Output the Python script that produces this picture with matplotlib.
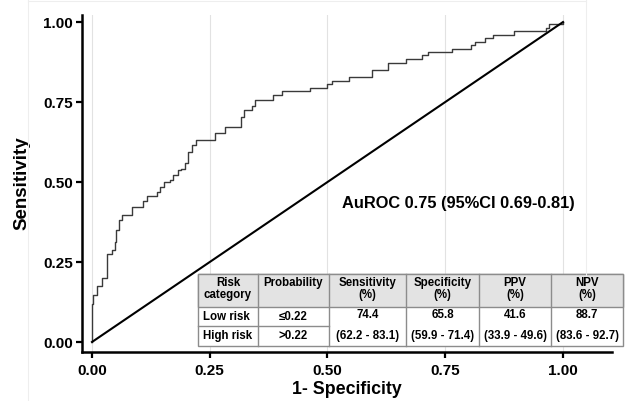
import matplotlib
matplotlib.use("Agg")
import matplotlib.pyplot as plt
from matplotlib.patches import Rectangle
from matplotlib.lines import Line2D

plt.rcParams['font.family'] = ['Liberation Sans', 'DejaVu Sans']
plt.rcParams['font.weight'] = 'bold'

# puntos de la curva ROC (1-especificidad, sensibilidad)
fpr = [0.0, 0.0, 0.003, 0.010, 0.021, 0.031, 0.042, 0.049, 0.052, 0.058,
       0.063, 0.084, 0.109, 0.116, 0.137, 0.144, 0.153, 0.166, 0.173, 0.183,
       0.190, 0.197, 0.204, 0.212, 0.221, 0.262, 0.283, 0.316, 0.323, 0.339,
       0.347, 0.384, 0.404, 0.463, 0.500, 0.509, 0.546, 0.595, 0.629, 0.666,
       0.700, 0.713, 0.764, 0.804, 0.813, 0.834, 0.852, 0.896, 0.964, 0.971,
       1.0]
tpr = [0.0, 0.12, 0.147, 0.175, 0.200, 0.275, 0.287, 0.313, 0.350, 0.380,
       0.397, 0.423, 0.440, 0.456, 0.470, 0.485, 0.500, 0.506, 0.522, 0.538,
       0.542, 0.558, 0.595, 0.616, 0.631, 0.652, 0.673, 0.704, 0.725, 0.738,
       0.756, 0.772, 0.784, 0.794, 0.806, 0.816, 0.828, 0.850, 0.871, 0.884,
       0.897, 0.906, 0.916, 0.927, 0.937, 0.950, 0.961, 0.972, 0.981, 0.994,
       1.0]

ticks = [0.0, 0.25, 0.5, 0.75, 1.0]
tick_labels = ["0.00", "0.25", "0.50", "0.75", "1.00"]

# tabla
header = ["Risk\ncategory", "Probability", "Sensitivity\n(%)", "Specificity\n(%)", "PPV\n(%)", "NPV\n(%)"]
risk_cat = ["Low risk", "High risk"]
prob = ["\u22640.22", ">0.22"]
valores = ["74.4", "65.8", "41.6", "88.7"]
ic = ["(62.2 - 83.1)", "(59.9 - 71.4)", "(33.9 - 49.6)", "(83.6 - 92.7)"]

W, H = 625, 401
fig = plt.figure(figsize=(W / 100, H / 100), dpi=100)
ax = fig.add_axes([82 / W, 49 / H, 530 / W, 337 / H])

for t in ticks:
    ax.axvline(t, color="#e2e2e2", lw=0.8, zorder=0)

ax.plot(fpr, tpr, drawstyle="steps-post", color="#3a3a3a", lw=1.0)
ax.plot([0, 1], [0, 1], color="black", lw=1.5)

ax.set_xlim(-0.0212, 1.104)
ax.set_ylim(-0.03125, 1.022)
ax.set_xticks(ticks)
ax.set_xticklabels(tick_labels)
ax.set_yticks(ticks)
ax.set_yticklabels(tick_labels)
ax.tick_params(direction="out", length=4.5, width=1.6, labelsize=11, pad=2)
ax.tick_params(axis="x", pad=4)
for s in ["top", "right"]:
    ax.spines[s].set_visible(False)
for s in ["left", "bottom"]:
    ax.spines[s].set_linewidth(1.8)

ax.set_xlabel("1- Specificity", fontsize=12.8, fontweight="bold", labelpad=2)
ax.set_ylabel("Sensitivity", fontsize=13.5, fontweight="bold", labelpad=9)

ax.text(0.531, 0.434, "AuROC 0.75 (95%CI 0.69-0.81)", fontsize=11.8,
        fontweight="bold", va="center", ha="left")

# marco tenue
for seg in [([28, 28], [0, 401]), ([28, 586], [1, 1]), ([586, 586], [0, 275])]:
    fig.add_artist(Line2D([x / W for x in seg[0]], [1 - y / H for y in seg[1]],
                          color="#eeeeee", lw=0.8))

# dibujar tabla en coordenadas de pixel
cols = [198, 258, 329, 406, 479, 551, 623]
rows = [274, 307, 326, 346]
gris = "#8c8c8c"


def fx(px):
    return px / W


def fy(py):
    return 1 - py / H


fig.add_artist(Rectangle((fx(cols[0]), fy(rows[3])), fx(cols[-1]) - fx(cols[0]),
                         fy(rows[0]) - fy(rows[3]), facecolor="white", edgecolor=gris, lw=1))
fig.add_artist(Rectangle((fx(cols[0]), fy(rows[1])), fx(cols[-1]) - fx(cols[0]),
                         fy(rows[0]) - fy(rows[1]), facecolor="#e3e3e3", edgecolor=gris, lw=1))
for c in cols[1:-1]:
    fig.add_artist(Line2D([fx(c), fx(c)], [fy(rows[0]), fy(rows[3])], color=gris, lw=1))
fig.add_artist(Line2D([fx(cols[0]), fx(cols[2])], [fy(rows[2]), fy(rows[2])], color=gris, lw=1))

fs = 8.3
for i, h in enumerate(header):
    cx = (cols[i] + cols[i + 1]) / 2
    fig.text(fx(cx), fy(277), h, ha="center", va="top", fontsize=fs,
             fontweight="bold", linespacing=1.05)

for j in range(2):
    cy = (rows[j + 1] + rows[j + 2]) / 2
    fig.text(fx(cols[0] + 5), fy(cy), risk_cat[j], ha="left", va="center",
             fontsize=fs, fontweight="bold")
    fig.text(fx((cols[1] + cols[2]) / 2), fy(cy), prob[j], ha="center", va="center",
             fontsize=fs, fontweight="bold")

for k in range(4):
    cx = (cols[k + 2] + cols[k + 3]) / 2
    fig.text(fx(cx), fy(315), valores[k], ha="center", va="center", fontsize=fs,
             fontweight="bold")
    fig.text(fx(cx), fy(336), ic[k], ha="center", va="center", fontsize=fs,
             fontweight="bold")

fig.savefig("out.png", dpi=100)
